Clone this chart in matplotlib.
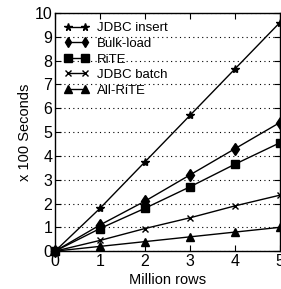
import matplotlib
matplotlib.use("Agg")
import matplotlib.pyplot as plt

plt.rcParams['font.family'] = ['Liberation Sans', 'DejaVu Sans']

x = [0, 1, 2, 3, 4, 5]
jdbc_insert = [0, 1.8, 3.75, 5.7, 7.65, 9.6]
bulk_load = [0, 1.1, 2.1, 3.2, 4.3, 5.4]
rite = [0, 0.95, 1.8, 2.7, 3.65, 4.55]
jdbc_batch = [0, 0.45, 0.95, 1.4, 1.9, 2.35]
all_rite = [0, 0.2, 0.4, 0.6, 0.8, 1.0]
labels = ['JDBC insert', 'Bulk-load', 'RiTE', 'JDBC batch', 'All-RiTE']
markers = ['*', 'd', 's', 'x', '^']

fig = plt.figure(figsize=(2.81, 2.89), dpi=100)
ax = fig.add_axes([0.196, 0.131, 0.80, 0.824])
for ys, lab, m in zip([jdbc_insert, bulk_load, rite, jdbc_batch, all_rite], labels, markers):
    ax.plot(x, ys, color='black', lw=1, marker=m, markersize=6 if m != 'x' else 5,
            markeredgewidth=1, label=lab, clip_on=False)

ax.set_xlim(0, 5)
ax.set_ylim(0, 10)
ax.set_xticks(range(6))
ax.set_yticks(range(11))
ax.yaxis.grid(True, linestyle=(0, (1, 3)), color='black', lw=0.8)
ax.tick_params(direction='in', top=True, right=True, labelsize=11.5, length=4, pad=2)
for s in ax.spines.values():
    s.set_linewidth(1)
ax.set_xlabel('Million rows', fontsize=10.5, labelpad=3)
ax.set_ylabel('x 100 Seconds', fontsize=10.5, labelpad=2)
leg = ax.legend(loc='upper left', frameon=False, fontsize=9.5, handlelength=1.9, numpoints=2,
                handletextpad=0.6, labelspacing=0.25, borderaxespad=0.3, markerscale=0.9,
                borderpad=0.4)
fig.savefig('out.png', dpi=100)
